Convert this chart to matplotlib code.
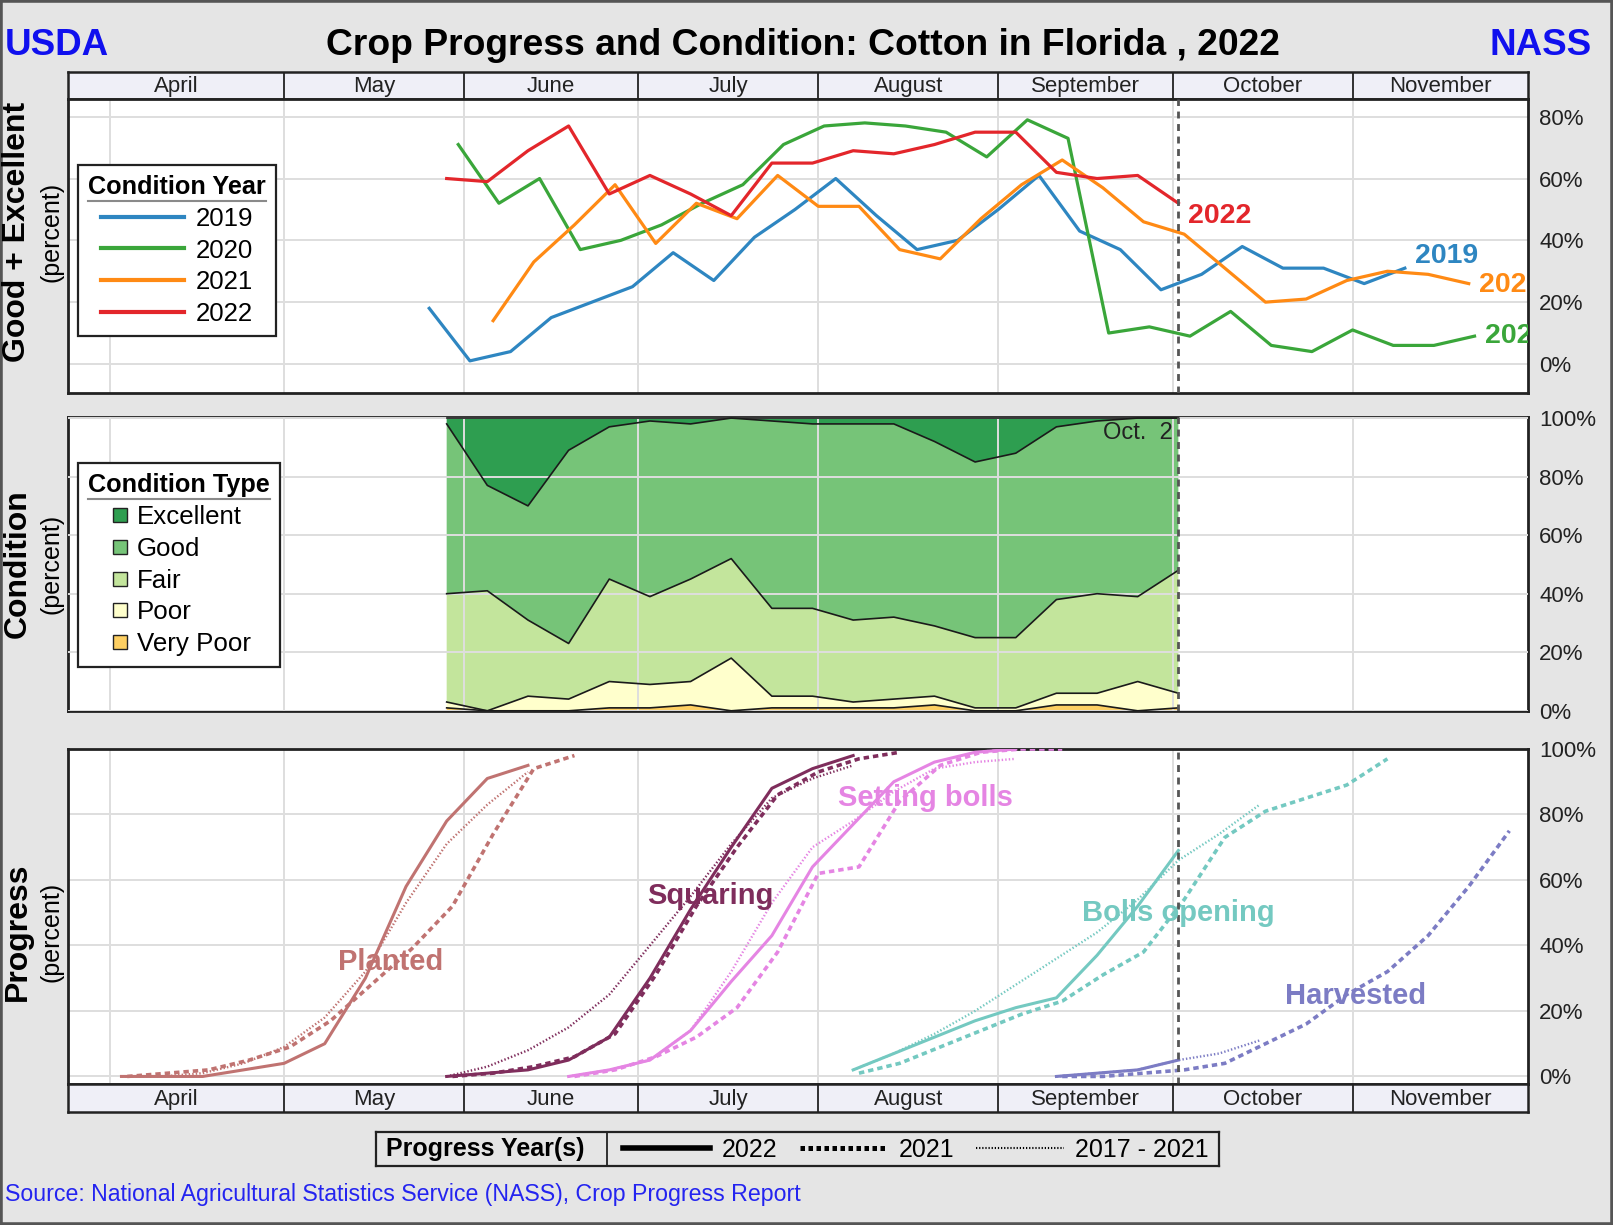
import numpy as np
import matplotlib
matplotlib.use('Agg')
import matplotlib.pyplot as plt
import matplotlib.dates as mdates
from matplotlib.lines import Line2D
from matplotlib.patches import Rectangle

plt.rcParams['font.family'] = ['Liberation Sans', 'DejaVu Sans']

# ---------------- data ----------------
# good + excellent condition, first week-ending date of each season then weekly values
cond_years = ['2019', '2020', '2021', '2022']
cond_colors = ['#2e86c1', '#3aa63a', '#ff8a14', '#e3262b']
ge_2019_start = '2019-05-26'
ge_2019 = [18, 1, 4, 15, 20, 25, 36, 27, 41, 50, 60, 48, 37, 40, 50, 61, 43, 37, 24, 29, 38, 31, 31, 26, 31]
ge_2020_start = '2020-05-31'
ge_2020 = [71, 52, 60, 37, 40, 45, 52, 58, 71, 77, 78, 77, 75, 67, 79, 73, 10, 12, 9, 17, 6, 4, 11, 6, 6, 9]
ge_2021_start = '2021-06-06'
ge_2021 = [14, 33, 45, 58, 39, 52, 47, 61, 51, 51, 37, 34, 47, 58, 66, 57, 46, 42, 31, 20, 21, 27, 30, 29, 26]

# 2022 condition by type (percent)
cond_2022_start = '2022-05-29'
very_poor = [1, 0, 0, 0, 1, 1, 2, 0, 1, 1, 1, 1, 2, 0, 0, 2, 2, 0, 1]
poor = [2, 0, 5, 4, 9, 8, 8, 18, 4, 4, 2, 3, 3, 1, 1, 4, 4, 10, 5]
fair = [37, 41, 26, 19, 35, 30, 35, 34, 30, 30, 28, 28, 24, 24, 24, 32, 34, 29, 42]
good = [58, 36, 39, 66, 52, 60, 53, 48, 64, 63, 67, 66, 63, 60, 63, 59, 59, 61, 52]
excellent = [2, 23, 30, 11, 3, 1, 2, 0, 1, 2, 2, 2, 8, 15, 12, 3, 1, 0, 0]
cond_types = ['Excellent', 'Good', 'Fair', 'Poor', 'Very Poor']
type_colors = ['#2e9e50', '#76c478', '#c3e59c', '#ffffcc', '#fdcf62']

# crop progress (percent): 2022, 2021 and 2017-2021 average
stages = ['Planted', 'Squaring', 'Setting bolls', 'Bolls opening', 'Harvested']
stage_colors = ['#c07371', '#7f2d5c', '#e585e3', '#74c9c1', '#7c7cc4']
prog_2022 = {
    'Planted': ('2022-04-03', [0, 0, 0, 2, 4, 10, 30, 58, 78, 91, 95]),
    'Squaring': ('2022-05-29', [0, 1, 2, 5, 12, 30, 51, 70, 88, 94, 98]),
    'Setting bolls': ('2022-06-19', [0, 2, 5, 14, 29, 43, 64, 77, 90, 96, 99, 100]),
    'Bolls opening': ('2022-08-07', [2, 7, 12, 17, 21, 24, 37, 52, 69]),
    'Harvested': ('2022-09-11', [0, 1, 2, 5]),
}
prog_2021 = {
    'Planted': ('2021-04-04', [0, 1, 2, 5, 9, 17, 28, 39, 52, 74, 94, 98]),
    'Squaring': ('2021-05-30', [0, 1, 3, 6, 13, 31, 52, 70, 86, 93, 97, 99]),
    'Setting bolls': ('2021-06-20', [0, 2, 6, 12, 21, 38, 62, 64, 84, 95, 99, 100, 100]),
    'Bolls opening': ('2021-08-08', [1, 4, 9, 14, 19, 23, 31, 38, 54, 73, 81, 85, 89, 97]),
    'Harvested': ('2021-09-12', [0, 0, 1, 2, 4, 10, 16, 25, 32, 43, 58, 75]),
}
prog_avg = {
    'Planted': ('2022-04-03', [0, 0, 1, 4, 9, 18, 32, 53, 71, 83, 93]),
    'Squaring': ('2022-05-29', [0, 3, 8, 15, 25, 40, 55, 71, 85, 91, 95]),
    'Setting bolls': ('2022-06-19', [0, 2, 5, 14, 32, 53, 70, 78, 87, 94, 96, 97]),
    'Bolls opening': ('2022-08-07', [2, 7, 13, 20, 28, 36, 44, 54, 66, 74, 83]),
    'Harvested': ('2022-09-11', [0, 1, 2, 5, 7, 11]),
}
# where the stage names sit (date, percent)
stage_label_pos = {
    'Planted': ('2022-05-19 10:00', 35),
    'Squaring': ('2022-07-13 08:00', 55),
    'Setting bolls': ('2022-08-19 12:00', 85),
    'Bolls opening': ('2022-10-02', 50),
    'Harvested': ('2022-11-01 12:00', 24.5),
}

months = ['April', 'May', 'June', 'July', 'August', 'September', 'October', 'November']
month_starts = [np.datetime64('2022-%02d-01' % m) for m in range(4, 13)]
report_date = np.datetime64('2022-10-02')
XLIM = (mdates.date2num(np.datetime64('2022-03-24T19:00')), mdates.date2num(np.datetime64('2022-12-01T05:00')))


def weeks(start, n):
    # weekly dates, shifted onto the 2022 calendar
    d0 = np.datetime64('2022' + start[4:10])
    return d0 + np.arange(n) * np.timedelta64(7, 'D')


BG = '#e5e5e5'
EDGE = '#222222'
GRID = '#dedede'

fig = plt.figure(figsize=(16.13, 12.25), dpi=100, facecolor=BG)
W, H = 1613.0, 1225.0


def box(x0, y0, x1, y1):
    return [x0 / W, 1 - y1 / H, (x1 - x0) / W, (y1 - y0) / H]


def style_panel(ax, yticks, ylim):
    ax.set_xlim(XLIM)
    ax.set_ylim(ylim)
    ax.set_xticks(mdates.date2num(month_starts[:-1]))
    ax.set_yticks(yticks)
    ax.set_yticklabels(['%d%%' % v for v in yticks])
    ax.yaxis.tick_right()
    ax.tick_params(axis='x', length=0, labelbottom=False)
    ax.tick_params(axis='y', length=0, pad=8, labelsize=16, labelcolor='#222222')
    ax.grid(True, color=GRID, lw=1.4)
    for s in ax.spines.values():
        s.set_color(EDGE)
        s.set_linewidth(2)
    ax.axvline(report_date, color='#555555', lw=2, ls=(0, (2.5, 2)), zorder=5)


def month_strip(ax):
    ax.set_xlim(XLIM)
    ax.set_ylim(0, 1)
    ax.set_facecolor('#efeff7')
    ax.set_xticks([])
    ax.set_yticks([])
    for s in ax.spines.values():
        s.set_color(EDGE)
        s.set_linewidth(1.8)
    for m in month_starts[1:-1]:
        ax.axvline(mdates.date2num(m), color=EDGE, lw=1.3)
    # each cell runs from one divider to the next (first cell starts at the axis edge)
    edges = [XLIM[0]] + [mdates.date2num(m) for m in month_starts[1:-1]] + [XLIM[1]]
    for i, name in enumerate(months):
        ax.text((edges[i] + edges[i + 1]) / 2, 0.45, name, ha='center', va='center', fontsize=16, color='#222222')


# ---------------- top: good + excellent ----------------
strip1 = fig.add_axes(box(68, 72, 1528, 98.8))
month_strip(strip1)
ax1 = fig.add_axes(box(68, 98.8, 1528, 393))
style_panel(ax1, [0, 20, 40, 60, 80], (-9.4, 85.8))

ge_2022 = [g + e for g, e in zip(good, excellent)]
series = [(ge_2019_start, ge_2019), (ge_2020_start, ge_2020), (ge_2021_start, ge_2021), (cond_2022_start, ge_2022)]
label_off = [(10, 12), (10, 0), (10, -1), (10, -13)]
for (start, vals), yr, col, off in zip(series, cond_years, cond_colors, label_off):
    d = weeks(start, len(vals))
    ax1.plot(d, vals, color=col, lw=2.3, zorder=3)
    ax1.annotate(yr, xy=(mdates.date2num(d[-1]), vals[-1]), xytext=off, textcoords='offset pixels',
                 ha='left', va='center', color=col, fontsize=20.5, fontweight='bold', clip_on=True)

h1 = [Line2D([], [], color=c, lw=3) for c in cond_colors]
leg1 = ax1.legend(h1, cond_years, title='Condition Year', loc='upper left', bbox_to_anchor=(0.0068, 0.776),
                  fontsize=18.6, title_fontproperties={'weight': 'bold', 'size': 18.2}, handlelength=3.23,
                  handletextpad=0.45, labelspacing=0.3, borderpad=0.4, fancybox=False, edgecolor=EDGE,
                  framealpha=1, borderaxespad=0)
leg1.get_frame().set_linewidth(1.6)

# ---------------- middle: condition ----------------
ax2 = fig.add_axes(box(68, 416.6, 1528, 710.8))
style_panel(ax2, [0, 20, 40, 60, 80, 100], (0, 100.5))
ax2.set_axisbelow(False)
dc = weeks(cond_2022_start, len(good))
layers = [very_poor, poor, fair, good, excellent]
layer_cols = type_colors[::-1]
base = np.zeros(len(good))
for vals, col in zip(layers, layer_cols):
    top = base + np.array(vals)
    ax2.fill_between(dc, base, top, facecolor=col, edgecolor='none', zorder=1)
    ax2.plot(dc, top, color='#1a1a1a', lw=1.2, zorder=3)
    base = top
ax2.annotate('Oct.  2', xy=(mdates.date2num(report_date), 95), xytext=(-6, 0), textcoords='offset pixels',
             ha='right', va='center', fontsize=17, color='#222222')

h2 = [Line2D([], [], ls='none', marker='s', markersize=10, markerfacecolor=c, markeredgecolor=EDGE, markeredgewidth=1)
      for c in type_colors]
leg2 = ax2.legend(h2, cond_types, title='Condition Type', loc='upper left', bbox_to_anchor=(0.0068, 0.842),
                  fontsize=18.6, title_fontproperties={'weight': 'bold', 'size': 18.2}, handlelength=1.0,
                  handletextpad=0.15, labelspacing=0.3, borderpad=0.4, fancybox=False, edgecolor=EDGE,
                  framealpha=1, borderaxespad=0)
leg2.get_frame().set_linewidth(1.6)

# ---------------- bottom: progress ----------------
ax3 = fig.add_axes(box(68, 749, 1528, 1084.3))
style_panel(ax3, [0, 20, 40, 60, 80, 100], (-2.4, 100))
strip3 = fig.add_axes(box(68, 1084.3, 1528, 1112))
month_strip(strip3)

for st, col in zip(stages, stage_colors):
    s, v = prog_avg[st]
    ax3.plot(weeks(s, len(v)), v, color=col, lw=1.7, ls=(0, (0.6, 0.9)), zorder=3)
    s, v = prog_2021[st]
    ax3.plot(weeks(s, len(v)), v, color=col, lw=2.6, ls=(0, (1.5, 1.1)), zorder=3)
    s, v = prog_2022[st]
    ax3.plot(weeks(s, len(v)), v, color=col, lw=2.2, zorder=4)
    lx, ly = stage_label_pos[st]
    ax3.text(mdates.date2num(np.datetime64(lx.replace(' ', 'T'))), ly, st, ha='center', va='center',
             fontsize=21, fontweight='bold', color=col, zorder=6)

# ---------------- bottom legend ----------------
lax = fig.add_axes(box(375.5, 1131.6, 1219, 1165.5))
lax.set_xlim(0, 1)
lax.set_ylim(0, 1)
lax.set_xticks([])
lax.set_yticks([])
lax.patch.set_alpha(0)
for s in lax.spines.values():
    s.set_color(EDGE)
    s.set_linewidth(1.6)
lax.axvline(0.2745, color=EDGE, lw=1.3)
lax.text(0.012, 0.48, 'Progress Year(s)', fontweight='bold', fontsize=18, va='center', ha='left')
h3 = [Line2D([], [], color='black', lw=4),
      Line2D([], [], color='black', lw=3.6, ls=(0, (0.9, 0.7))),
      Line2D([], [], color='black', lw=1.5, ls=(0, (0.6, 0.9)))]
lax.legend(h3, ['2022', '2021', '2017 - 2021'], ncol=3, loc='center left', bbox_to_anchor=(0.293, 0.47),
           frameon=False, fontsize=18, handlelength=3.5, handletextpad=0.45, columnspacing=0.9,
           borderpad=0, borderaxespad=0)

# ---------------- figure texts ----------------
fig.text(803 / W, 1 - 55 / H, 'Crop Progress and Condition: Cotton in Florida , 2022', ha='center',
         va='baseline', fontsize=26.8, fontweight='bold')
fig.text(5 / W, 1 - 55 / H, 'USDA', ha='left', va='baseline', fontsize=26.5, fontweight='bold', color='#1010ee')
fig.text(1592 / W, 1 - 55 / H, 'NASS', ha='right', va='baseline', fontsize=26.5, fontweight='bold', color='#1010ee')
fig.text(5 / W, 1 - 1201 / H, 'Source: National Agricultural Statistics Service (NASS), Crop Progress Report',
         ha='left', va='baseline', fontsize=16.7, color='#2424f0')

for name, yc in [('Good + Excellent', 232), ('Condition', 563.7), ('Progress', 932)]:
    fig.text(17.5 / W, 1 - yc / H, name, rotation=90, ha='center', va='center', fontsize=23, fontweight='bold')
    fig.text(51.4 / W, 1 - yc / H, '(percent)', rotation=90, ha='center', va='center', fontsize=18)

fig.add_artist(Rectangle((0, 0), 1, 1, transform=fig.transFigure, fill=False, edgecolor='#555555', lw=4))

# underline the legend titles
fig.canvas.draw()
inv = fig.transFigure.inverted()
for leg in (leg1, leg2):
    bb = leg.get_title().get_window_extent()
    (x0, y0), (x1, _) = inv.transform([[bb.x0, bb.y0 - 2], [bb.x1, bb.y0 - 2]])
    fig.add_artist(Line2D([x0, x1], [y0, y0], transform=fig.transFigure, color='#8a8a8a', lw=1.5))

fig.savefig('out.png', dpi=100, facecolor=BG)
